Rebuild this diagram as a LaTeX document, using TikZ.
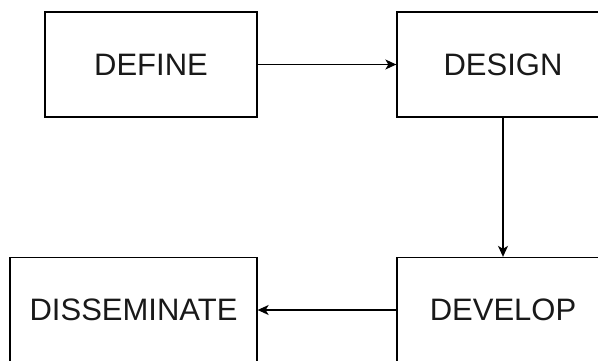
\documentclass[tikz,border=0pt]{standalone}
\usepackage{fontspec}
\setmainfont{Liberation Sans}
\usetikzlibrary{arrows.meta}
\begin{document}
\begin{tikzpicture}[x=1pt,y=1pt,
  stagebox/.style={draw=black, line width=1.3pt, minimum height=105pt, inner sep=0pt, font=\fontsize{31}{34}\selectfont, text=black!90},
  flow/.style={draw=black, line width=1.3pt, -{Stealth[length=11pt,width=10pt,inset=3pt]}}]
\useasboundingbox (0,0) rectangle (598,360);
\node[stagebox, minimum width=212pt] (define) at (151,295.5) {DEFINE};
\node[stagebox, minimum width=212pt] (design) at (503,295.5) {DESIGN};
\node[stagebox, minimum width=212pt] (develop) at (503,50) {DEVELOP};
\node[stagebox, minimum width=247pt] (diss) at (133.5,50) {DISSEMINATE};
\draw[flow] (define) -- (design);
\draw[flow] (design) -- (develop);
\draw[flow] (develop) -- (diss);
\end{tikzpicture}
\end{document}
